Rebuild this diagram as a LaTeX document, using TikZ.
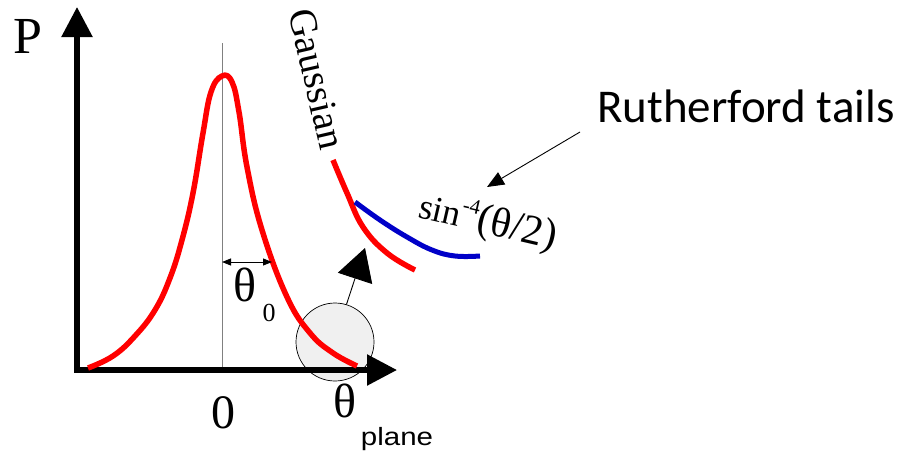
\documentclass[tikz,border=0pt]{standalone}
\usepackage{fontspec}
\setmainfont{Liberation Serif}
\newfontfamily\calfont{Carlito}
\newfontfamily\arialfont{Liberation Sans}
\usepackage{graphicx}
\usetikzlibrary{arrows.meta}
\definecolor{myred}{RGB}{255,0,0}
\definecolor{myblue}{RGB}{0,0,200}
\begin{document}
\begin{tikzpicture}[x=1pt,y=-1pt,
  axis/.style={line width=5.5pt, -{Triangle[length=30pt,width=30pt]}},
  curvered/.style={myred, line width=5.5pt, line join=round},
  curveblue/.style={myblue, line width=5pt, line join=round},
  thinarrow/.style={line width=0.9pt},
  lbl/.style={inner sep=0pt},
]
\useasboundingbox (0,0) rectangle (908,453);
% circle
\node[circle, draw, fill=gray!12, minimum size=78pt, inner sep=0pt, line width=0.7pt] (blob) at (335,342) {};
\coordinate (btip) at (365,248);
\draw[thinarrow, -{Triangle[length=32pt,width=36pt]}] (blob.73) -- (btip);
% guide line
\coordinate (ctop) at (222,43);
\coordinate (cbot) at (222,370);
\draw[gray, line width=1pt] (ctop) -- (cbot);
% axes
\coordinate (ybot) at (77,372.75);
\coordinate (ytip) at (77,7);
\coordinate (xleft) at (74.25,370);
\coordinate (xtip) at (397,370);
\draw[axis] (ybot) -- (ytip);
\draw[axis] (xleft) -- (xtip);
% main peak
\draw[curvered] plot[smooth, tension=0.7] coordinates {
 (88,368) (113,356) (135,336) (155,310) (170,278) (182,240)
 (193,193) (203,133) (211,92) (222,76) (232,82) (239,112)
 (247,167) (262,230) (287,297) (310,333) (333,353) (357,366)};
% theta0 arrow
\coordinate (t0a) at (222,262);
\coordinate (t0b) at (272,262);
\draw[thinarrow, {Triangle[length=9pt,width=7pt]}-{Triangle[length=9pt,width=7pt]}] (t0a) -- (t0b);
% tails
\draw[curvered] plot[smooth, tension=0.7] coordinates {
 (333,160) (347,193) (363,227) (387,253) (415,270)};
\draw[curveblue] plot[smooth, tension=0.7] coordinates {
 (355,202) (380,220) (407,237) (432,250) (455,256) (480,256)};
% labels
\node[lbl, font=\fontsize{52}{52}\selectfont] (P) at (28,36) {P};
\node[lbl, font=\fontsize{48}{48}\selectfont] (zero) at (223,413) {0};
\node[lbl, font=\fontsize{48}{48}\selectfont] (thx) at (345,401) {θ};
\node[lbl, font=\arialfont\fontsize{25}{25}\selectfont] (plane) at (397,439) {\scalebox{1.18}[1]{plane}};
\node[lbl, font=\fontsize{48}{48}\selectfont] (th0) at (245,285) {θ};
\node[lbl, font=\fontsize{26}{26}\selectfont] (sub0) at (269,313) {0};
\node[lbl, rotate=-77, font=\fontsize{39}{39}\selectfont] (gauss) at (317,79) {Gaussian};
\node[lbl, rotate=-13] (sinlbl) at (488,223) {\fontsize{36}{36}\selectfont sin\raisebox{0.45em}{\fontsize{21}{21}\selectfont -4}\fontsize{42}{42}\selectfont(θ/2)};
\node[lbl, anchor=base, font=\calfont\fontsize{47}{47}\selectfont] (ruth) at (746,122) {Rutherford tails};
\coordinate (rstart) at (580,132);
\coordinate (rtip) at (487,187);
\draw[thinarrow, -{Triangle[length=17pt,width=14pt]}] (rstart) -- (rtip);
\end{tikzpicture}
\end{document}
